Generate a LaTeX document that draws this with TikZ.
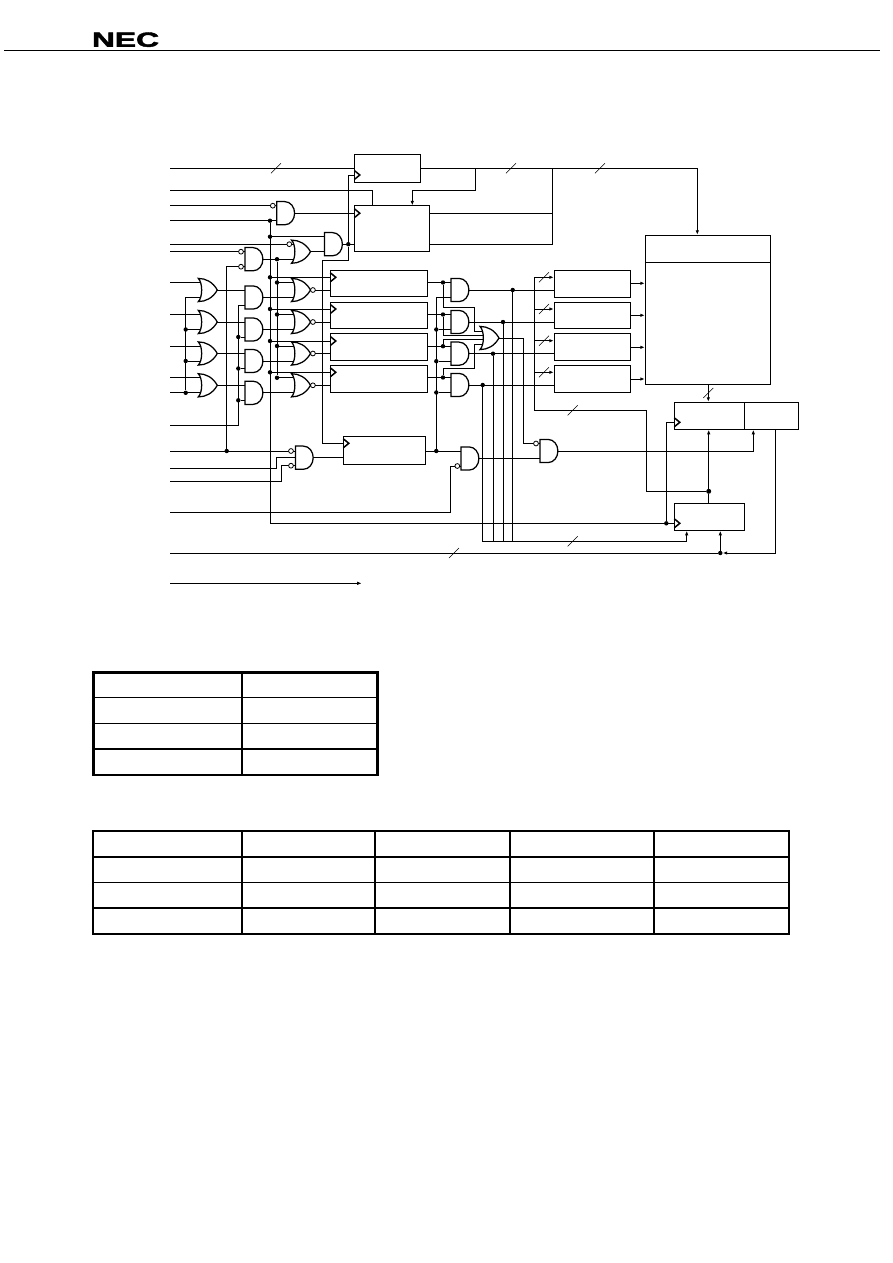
\documentclass[tikz,border=0pt]{standalone}
\usepackage{fontspec}
\setmainfont{Liberation Sans}
\newfontfamily\logofont[FakeBold=2]{Liberation Sans Bold}
\usetikzlibrary{calc, positioning, arrows.meta}
\tikzset{
  wire/.style={line width=1pt},
  arr/.style={wire, -{Latex[length=4.5pt,width=3.5pt]}},
  slashm/.style={line width=0.6pt},
  clkm/.style={line width=1.5pt},
  regbox/.style={draw, line width=1pt, inner sep=0pt},
  dotm/.style={circle, fill=black, inner sep=0pt, minimum size=4.4pt},
  bubm/.style={circle, draw, fill=white, line width=0.8pt, inner sep=0pt, minimum size=4.8pt},
  gateline/.style={line width=1.25pt, line join=miter},
  grid1/.style={line width=1.6pt},
  thin1/.style={line width=0.9pt},
  frame1/.style={line width=2.6pt},
  frame2/.style={line width=2.2pt},
  andg/.pic={
    \draw[gateline] (-8.9,-11.6) -- (-1,-11.6) .. controls (5,-11.6) and (8.9,-6) .. (8.9,0)
      .. controls (8.9,6) and (5,11.6) .. (-1,11.6) -- (-8.9,11.6) -- cycle;
    \coordinate (-i1) at (-8.9,-7.5);
    \coordinate (-i2) at (-8.9,7.5);
    \coordinate (-o) at (8.9,0);
  },
  org/.pic={
    \draw[gateline] (-9.5,-11.6) .. controls (-2,-11.6) and (5,-8) .. (9.5,0)
      .. controls (5,8) and (-2,11.6) .. (-9.5,11.6)
      .. controls (-5,7) and (-5,-7) .. (-9.5,-11.6) -- cycle;
    \coordinate (-i1) at (-7,-7.5);
    \coordinate (-i2) at (-7,7.5);
    \coordinate (-o) at (9.5,0);
  },
  norg/.pic={
    \draw[gateline] (-9.5,-11.6) .. controls (-2,-11.6) and (5,-8) .. (9.5,0)
      .. controls (5,8) and (-2,11.6) .. (-9.5,11.6)
      .. controls (-5,7) and (-5,-7) .. (-9.5,-11.6) -- cycle;
    \draw[line width=0.8pt] (11.9,0) circle (2.4);
    \coordinate (-i1) at (-7,-7.5);
    \coordinate (-i2) at (-7,7.5);
    \coordinate (-o) at (14.3,0);
  }
}
\newcommand{\slashat}[2]{\draw[slashm] (#1-5,#2+5) -- (#1+5,#2-5);}
\newcommand{\clkat}[2]{\draw[clkm] (#1,#2-4.5) -- (#1+5.5,#2) -- (#1,#2+4.5);}
\begin{document}
\begin{tikzpicture}[x=1pt,y=-1pt]
  \useasboundingbox (0,0) rectangle (892,1263);
  % head line and logo
  \draw[line width=1pt] (4,50.5) -- (880,50.5);
  \node[font=\logofont\fontsize{20.5}{20}\selectfont, xscale=1.55, inner sep=0pt] (logo) at (125.5,39.7) {NEC};

  % left inputs
  \foreach \nm/\yy in {a/168.3,b/190.3,c/205.7,d/220.7,e/244.2,f/251.7,g/282.5,h/314.5,i/346,j/377.8,k/392.8,l/425.3,m/451,n/468,o/481.5,p/512.3,q/553,r/583.3}
    \coordinate (in\nm) at (170,\yy);

  % boxes
  \node[regbox, minimum width=66.4pt, minimum height=27.3pt] (rtop) at (387.5,168.6) {};
  \node[regbox, minimum width=75pt, minimum height=45.3pt] (rmid) at (391.8,228.6) {};
  \node[regbox, minimum width=97.4pt, minimum height=26.7pt] (ra) at (379,283.6) {};
  \node[regbox, minimum width=97.4pt, minimum height=26pt] (rb) at (379,315.3) {};
  \node[regbox, minimum width=97.4pt, minimum height=27pt] (rc) at (379,346.8) {};
  \node[regbox, minimum width=97.4pt, minimum height=27pt] (rd) at (379,378.8) {};
  \node[regbox, minimum width=82.4pt, minimum height=28pt] (re) at (384.5,450.3) {};
  \node[regbox, minimum width=76.4pt, minimum height=27pt] (ma) at (592.5,283.8) {};
  \node[regbox, minimum width=76.4pt, minimum height=26pt] (mb) at (592.5,315.3) {};
  \node[regbox, minimum width=76.4pt, minimum height=27pt] (mc) at (592.5,346.8) {};
  \node[regbox, minimum width=76.4pt, minimum height=27pt] (md) at (592.5,378.8) {};
  \node[regbox, minimum width=125.4pt, minimum height=149pt] (big) at (708,309.8) {};
  \draw[wire] (big.west |- 0,262.3) -- (big.east |- 0,262.3);
  \node[regbox, minimum width=70pt, minimum height=27pt] (la) at (709.3,415.8) {};
  \node[regbox, minimum width=54.4pt, minimum height=27pt] (lb) at (771.5,415.8) {};
  \node[regbox, minimum width=70pt, minimum height=27pt] (lc) at (709.3,516.8) {};

  % clock marks
  \clkat{354.3}{175} \clkat{354.3}{213.2}
  \clkat{330.3}{277.3} \clkat{330.3}{309} \clkat{330.3}{341} \clkat{330.3}{372.3}
  \clkat{343.3}{443.3} \clkat{674.3}{422.3} \clkat{674.3}{523.3}

  % gates, first columns
  \pic (ora) at (207.8,290) {org};
  \pic (orb) at (207.8,322) {org};
  \pic (orc) at (207.8,353.5) {org};
  \pic (ord) at (207.8,385.3) {org};
  \pic (ana) at (254,297.5) {andg};
  \pic (anb) at (254,329.5) {andg};
  \pic (anc) at (254,361) {andg};
  \pic (ane) at (254,392.8) {andg};
  \pic (noa) at (301,290) {norg};
  \pic (nob) at (301,322) {norg};
  \pic (noc) at (301,353.5) {norg};
  \pic (nod) at (301,385.3) {norg};
  % gates, top
  \pic (gta) at (285.7,213.2) {andg};
  \pic (gtb) at (333.5,244.2) {andg};
  \pic (gtc) at (301,251.7) {org};
  \pic (gtd) at (254,259.2) {andg};
  % gates, bottom
  \pic (gba) at (304.3,457.7) {andg};
  \pic (gbb) at (470,458.5) {andg};
  \pic (gbc) at (549,451) {andg};
  % gates, right columns
  \pic (ama) at (460,290) {andg};
  \pic (amb) at (460,322) {andg};
  \pic (amc) at (460,353.7) {andg};
  \pic (amd) at (460,385) {andg};
  \pic (orm) at (489.5,338) {org};

  % top wires
  \draw[wire] (ina) -- (rtop.west |- ina);
  \slashat{276}{168.3}
  \draw[wire] (inb) -| (372.3,206);
  \node[dotm] (ka) at (270,220.7) {};
  \draw[wire] (ind) -- (gta-i2);
  \draw[wire] (gta-o) -- (rmid.west |- gta-o);
  \draw[wire] (gtd-o) -- (gtc-i2);
  \draw[wire] (gtc-o) -- (gtb-i2);
  \draw[wire] (gtb-o) -- (rmid.west |- gtb-o);
  \node[dotm] (dclk) at (348.3,244.2) {};
  \draw[wire] (dclk) |- (rtop.west |- 0,175);
  \draw[wire] (dclk) -- (348.3,260) -| (322.3,443.3) -- (re.west |- 0,443.3);
  \draw[arr] (rtop.east |- ina) -| (big.north -| 697.3,0);
  \slashat{511}{168.3} \slashat{600}{168.3}
  \draw[arr] (475,168.3) |- (412.3,190.3) -- (rmid.north -| 412.3,0);
  \draw[wire] (rmid.east |- gta-o) -| (552.7,168.3);
  \draw[wire] (rmid.east |- gtb-o) -| (552.7,168.3);

  % first rail, clocks
  \node[dotm] (kb) at (270,236.7) {};
  \node[dotm] (kc) at (270,277.3) {};
  \node[dotm] (kd) at (270,309) {};
  \node[dotm] (ke) at (270,341) {};
  \node[dotm] (kf) at (270,372.3) {};
  \draw[wire] (ka) -- (270,523.3) -- (lc.west |- 0,523.3);
  \draw[wire] (kb) -- (gtb-i1);
  \foreach \src/\dst in {kc/ra,kd/rb,ke/rc,kf/rd}
    \draw[wire] (\src) -- (\dst.west |- \src);

  % second rail
  \node[dotm] (sa) at (277,259.2) {};
  \node[dotm] (sb) at (277,282.5) {};
  \node[dotm] (sc) at (277,314.5) {};
  \node[dotm] (sd) at (277,346) {};
  \node[dotm] (se) at (277,377.8) {};
  \draw[wire] (sa) -- (se);
  \foreach \src/\dst in {sb/noa,sc/nob,sd/noc,se/nod}
    \draw[wire] (\src) -- (\dst-i1);

  % or inputs
  \foreach \src/\dst in {ing/ora,inh/orb,ini/orc,inj/ord}
    \draw[wire] (\src) -- (\dst-i1);
  \draw[wire] (ink) -- (ord-i2);
  \node[dotm] (ta) at (185.7,329.5) {};
  \node[dotm] (tb) at (185.7,361) {};
  \node[dotm] (tc) at (185.7,392.8) {};
  \draw[wire] (ora-i2) -- (185.7,297.5) -- (tc);
  \draw[wire] (ta) -- (orb-i2);
  \draw[wire] (tb) -- (orc-i2);

  % or to and to nor
  \foreach \aa/\bb in {ora/ana,orb/anb,orc/anc,ord/ane}
    \draw[wire] (\aa-o) -- (\bb-i1);
  \foreach \aa/\bb in {ana/noa,anb/nob,anc/noc,ane/nod}
    \draw[wire] (\aa-o) -- (\bb-i2);
  \foreach \aa/\bb in {noa/ra,nob/rb,noc/rc,nod/rd}
    \draw[wire] (\aa-o) -- (\bb.west |- \aa-o);

  % enable rail
  \node[dotm] (ua) at (238.3,337) {};
  \node[dotm] (ub) at (238.3,368.5) {};
  \node[dotm] (uc) at (238.3,400.3) {};
  \draw[wire] (ana-i2) -- (238.3,305) -- (238.3,425.3) -- (inl);
  \draw[wire] (ua) -- (anb-i2);
  \draw[wire] (ub) -- (anc-i2);
  \draw[wire] (uc) -- (ane-i2);

  % bottom left gate
  \node[dotm] (va) at (226.7,451) {};
  \draw[wire] (inc) -- (gta-i1);
  \draw[wire] (ine) -- (gtc-i1);
  \draw[wire] (inf) -- (gtd-i1);
  \draw[wire] (inm) -- (295.4,451);
  \draw[wire] (241,266.7) -| (va);
  \draw[wire] (241,266.7) -- (gtd-i2);
  \draw[wire] (inn) -| (276.3,457.7) -- (295.4,457.7);
  \draw[wire] (ino) -| (281.7,465.7) -- (295.4,465.7);
  \draw[wire] (gba-o) -- (re.west |- gba-o);
  \node[bubm] (bda) at (241,251.7) {};
  \node[bubm] (bdb) at (241,266.7) {};
  \node[bubm] (bta) at (272.8,205.7) {};
  \node[bubm] (btc) at (289.3,244.2) {};
  \node[bubm] (bba) at (291,451) {};
  \node[bubm] (bbc) at (291,465.7) {};

  % register outputs to and gates
  \node[dotm] (wa) at (443,282.5) {};
  \node[dotm] (wb) at (443,314.5) {};
  \node[dotm] (wc) at (443,346.2) {};
  \node[dotm] (wd) at (443,377.5) {};
  \foreach \src/\gt/\dt in {ra/ama/wa,rb/amb/wb,rc/amc/wc,rd/amd/wd}
    \draw[wire] (\src.east |- \dt) -- (\gt-i1);
  % load rail
  \node[dotm] (xa) at (436.3,329.5) {};
  \node[dotm] (xb) at (436.3,361.2) {};
  \node[dotm] (xc) at (436.3,392.5) {};
  \node[dotm] (xd) at (436.3,451) {};
  \draw[wire] (ama-i2) -- (436.3,297.5) -- (xd);
  \draw[wire] (xa) -- (amb-i2);
  \draw[wire] (xb) -- (amc-i2);
  \draw[wire] (xc) -- (amd-i2);
  \draw[wire] (re.east |- xd) -- (gbb-i1);
  % branches to the or gate
  \coordinate (oma) at (482,331.7);
  \coordinate (omb) at (483.4,335.3);
  \coordinate (omc) at (483.4,339.3);
  \coordinate (omd) at (482,344.3);
  \draw[wire] (wa) |- (474.3,307.3) |- (oma);
  \draw[wire] (wb) |- (omb);
  \draw[wire] (wc) |- (omc);
  \draw[wire] (wd) |- (474.3,368.3) |- (omd);

  % and outputs to memories
  \node[dotm] (ya) at (512.7,290) {};
  \node[dotm] (yb) at (503,322) {};
  \node[dotm] (yc) at (493,353.7) {};
  \node[dotm] (yd) at (482.7,385) {};
  \draw[wire] (ama-o) -- (ma.west |- ama-o);
  \draw[wire] (amb-o) -- (mb.west |- amb-o);
  \draw[wire] (amc-o) -- (mc.west |- amc-o);
  \draw[wire] (amd-o) -- (md.west |- amd-o);
  \draw[wire] (ya) -- (512.7,541.3);
  \draw[wire] (yb) -- (503,541.3);
  \draw[wire] (yc) -- (493,541.3);
  \draw[arr] (yd) -- (482.7,541.3) -| (lc.south -| 686.7,0);
  \slashat{572.7}{541.3}

  % memory data bus
  \foreach \dst/\yy in {ma/277.3,mb/309,mc/340.7,md/372.3}{
    \draw[arr] (534.7,\yy) -- (\dst.west |- 0,\yy);
    \slashat{544}{\yy}
  }
  \node[dotm, minimum size=5pt] (za) at (708.7,491.3) {};
  \draw[wire] (534.7,277.3) -- (534.7,410.3) -| (646.7,491.3) -- (za);
  \slashat{572.7}{410.3}
  \foreach \src/\yy in {ma/283.3,mb/315.3,mc/347.3,md/379}
    \draw[arr] (\src.east |- 0,\yy) -- (big.west |- 0,\yy);

  % or gate and lower gates
  \draw[wire] (orm-o) -| (523.3,443.5) -- (gbc-i1);
  \draw[wire] (gbb-o) -- (gbc-i2);
  \draw[wire] (inp) -| (450.7,466) -- (gbb-i2);
  \draw[arr] (gbc-o) -| (lb.south -| 753.3,0);
  \node[bubm] (bcc) at (536,443.5) {};
  \node[bubm] (bbb) at (457.3,466) {};

  % lower right block
  \draw[arr] (big.south -| 708.3,0) -- (la.north -| 708.3,0);
  \slashat{708.3}{393}
  \draw[arr] (za) -- (la.south -| za);
  \draw[wire] (za) -- (lc.north -| za);
  \node[dotm] (zb) at (666.3,523.3) {};
  \draw[wire] (zb) |- (la.west |- 0,422.3);
  \node[dotm] (zc) at (720.3,553) {};
  \draw[arr] (zc) -- (lc.south -| zc);
  \draw[wire] (inq) -- (zc);
  \slashat{454}{553}
  \draw[arr] (lb.south -| 775.7,0) |- (zc);
  \draw[arr] (inr) -- (361.7,583.3);

  % tables
  \draw[frame1] (93.3,672.5) rectangle (377.3,775);
  \foreach \yy in {697.5,749.2} \draw[grid1] (93.3,\yy) -- (377.3,\yy);
  \draw[thin1] (93.3,723.3) -- (377.3,723.3);
  \draw[grid1] (242,672.5) -- (242,775);
  \draw[frame2] (93.3,831.2) rectangle (788.7,934);
  \foreach \yy in {856.8,882.5,908} \draw[grid1] (93.3,\yy) -- (788.7,\yy);
  \foreach \xx in {242,375,510,654} \draw[grid1] (\xx,831.2) -- (\xx,934);
\end{tikzpicture}
\end{document}
